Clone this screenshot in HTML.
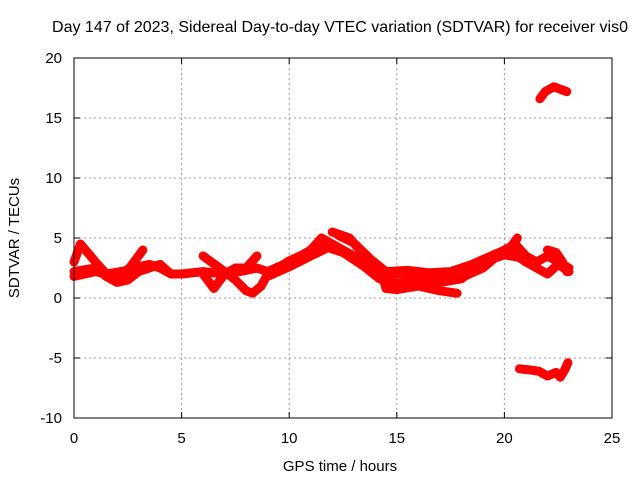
<!DOCTYPE html>
<html><head><meta charset="utf-8"><style>
body{margin:0;background:#fff;}
svg{display:block;font-family:"Liberation Sans",sans-serif;}
</style></head><body>
<svg id="chart" width="640" height="480">
<text x="340" y="32" font-size="16" text-anchor="middle">Day 147 of 2023, Sidereal Day-to-day VTEC variation (SDTVAR) for receiver vis0</text>
<g id="grid"></g>
<g id="ticks"></g>
<g id="series"></g>
<rect x="74" y="58" width="538" height="360" fill="none" stroke="#000" stroke-width="1"/>
<text x="340" y="471" font-size="15" text-anchor="middle">GPS time / hours</text>
<text transform="translate(19,238) rotate(-90)" font-size="15" text-anchor="middle">SDTVAR / TECUs</text>
</svg>
<script>
const xTicks=[0,5,10,15,20,25];
const yTicks=[-10,-5,0,5,10,15,20];
const track1=[[0,3],[0.3,4.5],[1,3],[1.5,2],[2.5,2.3],[3.2,4]];
const track2=[[0,1.8],[1,2.2],[2,1.8],[2.5,2.4],[3,2.6],[3.5,2.8],[4,2.5],[4.5,2],[5,2],[6,2.2],[7,2],[8,2.3],[8.5,2.5],[9,2.2],[10,3],[11,4],[11.5,5],[12,4.5],[13,3.5],[14,2.5],[14.5,1.8],[15,2],[16,2.1],[17,2],[18,1.7],[19,2.5],[20,4],[20.5,4.5],[21,3.5],[21.5,3],[22,3.5],[22.5,3],[23,2.5]];
const track3=[[0,2.2],[1,2.5],[1.5,1.8],[2,1.3],[2.5,1.5],[3,2.2],[3.5,2.5],[4,2.8],[4.5,2]];
const track4=[[6,3.5],[7,2.2],[7.5,1.5],[8,0.6],[8.3,0.4],[8.7,1],[9,2],[9.5,2.5],[10,3.1],[11,3.9],[11.6,4.6]];
const track5=[[12,5.5],[12.8,5],[13.5,3.5],[14.3,2],[14.5,0.8],[15,0.7],[16,1],[17,0.6],[17.8,0.4]];
const track6=[[6,2],[6.5,0.8],[7,2],[7.5,2.5],[8,2.5],[8.5,3.5]];
const track7=[[20.6,5],[20.2,4],[21,3],[21.5,2.5],[22,2],[22.5,2.8],[23,2.2]];
const track8=[[22,4],[22.4,3.8],[22.7,3],[22.9,2.2]];
const track9=[[21.65,16.6],[21.9,17.2],[22.3,17.6],[22.9,17.2]];
const track10=[[20.7,-5.9],[21.2,-6],[21.6,-6.1],[22,-6.5],[22.4,-6.2],[22.6,-6.6],[22.8,-6],[22.95,-5.4]];
const track11=[[9,1.8],[10,2.6],[11,3.5],[11.8,4.2],[12.5,3.8],[13.5,2.6],[14.2,1.6],[15,1.2],[16,1.5],[17,1.3],[18,1.6],[19,3],[20,3.6],[21,3.3],[21.5,2.8]];
const track12=[[12.3,5.2],[13,4.6],[13.8,3.2],[14.5,2.2],[15.5,2.3],[16.5,2.1],[17.5,2.2],[18.5,2.8],[19.5,3.6],[20.3,4.2]];
const tracks=[track1,track2,track3,track4,track5,track6,track7,track8,track9,track10,track11,track12];
const NS="http://www.w3.org/2000/svg";
const X=h=>74+h*538/25, Y=v=>298-v*12;
const grid=document.getElementById('grid'),ticks=document.getElementById('ticks'),ser=document.getElementById('series');
function mk(t,a,p){const e=document.createElementNS(NS,t);for(const k in a)e.setAttribute(k,a[k]);p.appendChild(e);return e;}
xTicks.forEach(t=>{const x=X(t);
 if(t>0&&t<25){const l=mk('line',{x1:x,x2:x,y1:58,y2:418,stroke:'#999','stroke-dasharray':'2,3'},grid);
 
 }
 mk('line',{x1:x,x2:x,y1:418,y2:412,stroke:'#000'},ticks);mk('line',{x1:x,x2:x,y1:58,y2:64,stroke:'#000'},ticks);
 const tx=mk('text',{x:x,y:443,'font-size':15,'text-anchor':'middle'},ticks);tx.textContent=t;
 
 });
yTicks.forEach(t=>{const y=Y(t);
 if(t>-10&&t<20){const l=mk('line',{x1:74,x2:612,y1:y,y2:y,stroke:'#999','stroke-dasharray':'2,3'},grid);
 
 }
 mk('line',{x1:74,x2:80,y1:y,y2:y,stroke:'#000'},ticks);mk('line',{x1:612,x2:606,y1:y,y2:y,stroke:'#000'},ticks);
 const tx=mk('text',{x:62,y:y+5,'font-size':15,'text-anchor':'end'},ticks);tx.textContent=t;
 
 });
tracks.forEach((tr,i)=>{const p=mk('polyline',{points:tr.map(d=>X(d[0])+','+Y(d[1])).join(' '),fill:'none',stroke:'#f00','stroke-width':9,'stroke-linejoin':'round','stroke-linecap':'round'},ser);
 
 });
</script>
</body></html>
